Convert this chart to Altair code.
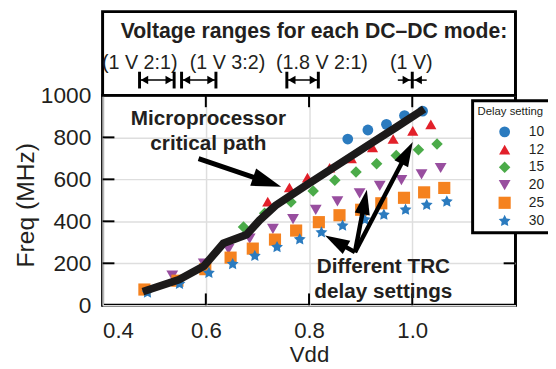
import math
import altair as alt
import pandas as pd

# ---------------- data ----------------
series_names = ["10", "12", "15", "20", "25", "30"]
v10 = [0.875, 0.914, 0.950, 0.985, 1.020]
f10 = [792, 835, 862, 904, 925]
v12 = [0.720, 0.762, 0.797, 0.840, 0.882, 0.923, 0.963, 1.001, 1.036]
f12 = [494, 561, 608, 655, 700, 752, 792, 831, 862]
v15 = [0.673, 0.714, 0.765, 0.808, 0.850, 0.891, 0.931, 0.969, 1.012, 1.048]
f15 = [373, 439, 492, 544, 596, 635, 674, 713, 741, 768]
v20 = [0.535, 0.596, 0.644, 0.685, 0.730, 0.769, 0.813, 0.855, 0.898, 0.937, 0.979, 1.018, 1.055]
f20 = [141, 198, 267, 318, 364, 411, 455, 495, 533, 569, 596, 624, 654]
v25 = [0.481, 0.545, 0.599, 0.648, 0.691, 0.734, 0.775, 0.819, 0.859, 0.901, 0.940, 0.984, 1.023, 1.062]
f25 = [75, 117, 172, 227, 270, 313, 356, 396, 429, 455, 486, 512, 538, 559]
v30 = [0.487, 0.549, 0.606, 0.652, 0.695, 0.738, 0.782, 0.824, 0.865, 0.908, 0.945, 0.987, 1.028, 1.067]
f30 = [60, 102, 154, 196, 235, 277, 314, 347, 379, 408, 431, 455, 478, 494]

line_v = [0.478, 0.548, 0.596, 0.634, 0.679, 0.704, 0.735, 0.79, 0.85, 0.91, 0.97, 1.023]
line_f = [65, 122, 186, 295, 336, 405, 475, 565, 660, 755, 850, 935]

micro_text = ["Microprocessor", "critical path"]
micro_text_v = [0.605, 0.605]
micro_text_f = [886, 768]
trc_text = ["Different TRC", "delay settings"]
trc_text_v = [0.944, 0.944]
trc_text_f = [182, 64]

arrow_tail_v = [0.586, 0.889, 0.889, 0.889]
arrow_tail_f = [699, 253, 253, 253]
arrow_tip_v = [0.746, 0.831, 0.912, 1.001]
arrow_tip_f = [565, 333, 550, 778]

box_title = "Voltage ranges for each DC\u2013DC mode:"
mode_labels = ["(1 V 2:1)", "(1 V 3:2)", "(1.8 V 2:1)", "(1 V)"]
mode_label_v = [0.472, 0.642, 0.825, 0.998]
range_lo = [0.4716, 0.553, 0.757]
range_hi = [0.5386, 0.6196, 0.818]
single_v = [1.0]

x_ticks = [0.4, 0.6, 0.8, 1.0]
y_ticks = [0, 200, 400, 600, 800, 1000]
inner_x_ticks = [0.6, 0.8, 1.0]
inner_y_ticks = [200, 400, 600, 800]

# ---------------- layout / style ----------------
W, H = 419, 213
PXV = W / 0.8
PXF = H / 1000.0
FONT = "Liberation Sans"
INK = "#231f20"
colors = ["#2b7bbf", "#e2202a", "#4bab49", "#984e9f", "#f5821f", "#2b7bbf"]
STAR = ("M0,-1L0.294,-0.405L0.951,-0.309L0.476,0.155L0.588,0.809L0,0.5"
        "L-0.588,0.809L-0.476,0.155L-0.951,-0.309L-0.294,-0.405Z")
shapes = ["circle", "triangle-up", "diamond", "triangle-down", "square", STAR]
sizes = [120, 160, 190, 160, 110, 150]
HEAD = "M0,-1L0.62,1L-0.62,1Z"

xs = alt.Scale(domain=[0.4, 1.2], nice=False, zero=False)
ys = alt.Scale(domain=[0, 1000], nice=False)
x_axis = alt.Axis(values=x_ticks, format=".1f", grid=True, ticks=False, domain=False,
                  labelFontSize=22.5, labelPadding=15, title="Vdd", titleFontSize=22.5,
                  titleFontWeight="normal", titleBaseline="alphabetic", titleY=57.5)
y_axis = alt.Axis(values=y_ticks, format="d", grid=True, ticks=False, domain=False,
                  labelFontSize=23, labelPadding=12, title="Freq (MHz)", titleFontSize=25,
                  titleFontWeight="normal", titleAngle=270, titleAlign="center",
                  titleBaseline="middle", titleX=-78, titleY=111)


def X(field="v"):
    return alt.X(f"{field}:Q", scale=xs, axis=x_axis, title="Vdd")


def Y(field="f"):
    return alt.Y(f"{field}:Q", scale=ys, axis=y_axis, title="Freq (MHz)")


# points
rows = []
for name, vv, ff in zip(series_names, [v10, v12, v15, v20, v25, v30], [f10, f12, f15, f20, f25, f30]):
    for a, b in zip(vv, ff):
        rows.append({"series": name, "v": a, "f": b})
pts = pd.DataFrame(rows)

leg = alt.Legend(title="Delay setting", orient="none", legendX=375.5, legendY=5.5,
                 fillColor="white", strokeColor="black", padding=5,
                 titleFontSize=11.5, titleFontWeight="normal", titleColor=INK, titlePadding=8,
                 labelFontSize=14, labelColor=INK, symbolSize=150, rowPadding=4,
                 symbolOffset=20, labelOffset=17)

points = alt.Chart(pts).mark_point(filled=True, opacity=1).encode(
    x=X(), y=Y(),
    color=alt.Color("series:N", scale=alt.Scale(domain=series_names, range=colors), legend=leg),
    shape=alt.Shape("series:N", scale=alt.Scale(domain=series_names, range=shapes), legend=leg),
    size=alt.Size("series:N", scale=alt.Scale(domain=series_names, range=sizes), legend=None),
)

line = alt.Chart(pd.DataFrame({"v": line_v, "f": line_f})).mark_line(
    color="#1c1a1a", strokeWidth=8).encode(x=X(), y=Y())

# inward ticks
xt = pd.DataFrame({"v": inner_x_ticks})
yt = pd.DataFrame({"f": inner_y_ticks})
tick_style = dict(color="black", strokeWidth=2)
ticks = [
    alt.Chart(xt).mark_rule(**tick_style).encode(x=X(), y=alt.value(H), y2=alt.value(H - 12)),
    alt.Chart(xt).mark_rule(**tick_style).encode(x=X(), y=alt.value(0), y2=alt.value(12)),
    alt.Chart(yt).mark_rule(**tick_style).encode(y=Y(), x=alt.value(0), x2=alt.value(12)),
    alt.Chart(yt).mark_rule(**tick_style).encode(y=Y(), x=alt.value(W - 12), x2=alt.value(W)),
]

# arrows
arows = []
for tv, tf, pv, pf, i in zip(arrow_tail_v, arrow_tail_f, arrow_tip_v, arrow_tip_f, range(4)):
    hl = 30 if i == 0 else 25
    dx = (pv - tv) * PXV
    dy = -(pf - tf) * PXF
    L = math.hypot(dx, dy)
    ux, uy = dx / L, dy / L
    arows.append({
        "v": tv, "f": tf,
        "v2": pv - ux * hl * 0.6 / PXV, "f2": pf + uy * hl * 0.6 / PXF,
        "hv": pv - ux * hl / 2 / PXV, "hf": pf + uy * hl / 2 / PXF,
        "ang": math.degrees(math.atan2(ux, -uy)) % 360,
        "s": hl * hl, "w": 5 if i == 0 else 4.5,
    })
adf = pd.DataFrame(arows)
arrow_lines = alt.Chart(adf).mark_rule(color="black").encode(
    x=X(), y=Y(), x2="v2:Q", y2="f2:Q", strokeWidth=alt.StrokeWidth("w:Q", scale=None))
arrow_heads = alt.Chart(adf).mark_point(filled=True, opacity=1, color="black", shape=HEAD).encode(
    x=X("hv"), y=Y("hf"), angle=alt.Angle("ang:Q", scale=None), size=alt.Size("s:Q", scale=None))

# annotation text
ann = pd.DataFrame({"t": micro_text + trc_text, "v": micro_text_v + trc_text_v,
                    "f": micro_text_f + trc_text_f})
ann_text = alt.Chart(ann).mark_text(font=FONT, fontSize=21, fontWeight="bold", color=INK,
                                    baseline="middle").encode(x=X(), y=Y(), text="t:N")

# top box
one = pd.DataFrame({"k": [0]})
box = alt.Chart(one).mark_rect(fill="white", stroke="black", strokeWidth=3).encode(
    x=alt.value(0), x2=alt.value(W), y=alt.value(-85), y2=alt.value(0))
box_t = alt.Chart(pd.DataFrame({"t": [box_title]})).mark_text(
    font=FONT, fontSize=21.5, fontWeight="bold", color=INK, baseline="middle").encode(
    x=alt.value(W / 2 + 5), y=alt.value(-64), text="t:N")
mode_t = alt.Chart(pd.DataFrame({"t": mode_labels, "v": mode_label_v})).mark_text(
    font=FONT, fontSize=20, color=INK, baseline="middle").encode(
    x=X(), y=alt.value(-33), text="t:N")

bars = pd.DataFrame({"v": range_lo + range_hi + single_v})
range_bars = alt.Chart(bars).mark_rule(color="black", strokeWidth=3).encode(
    x=X(), y=alt.value(-24), y2=alt.value(-7))
rng = pd.DataFrame({"v": range_lo + [single_v[0] - 0.028], "v2": range_hi + [single_v[0] + 0.028]})
range_lines = alt.Chart(rng).mark_rule(color="black", strokeWidth=1.5).encode(
    x=X(), x2="v2:Q", y=alt.value(-15.5))
lo_df = pd.DataFrame({"v": range_lo})
hi_df = pd.DataFrame({"v": range_hi})
sv_df = pd.DataFrame({"v": single_v})
head_style = dict(filled=True, opacity=1, color="black", size=75)
range_heads = [
    alt.Chart(lo_df).mark_point(shape="triangle-left", xOffset=5, **head_style).encode(x=X(), y=alt.value(-15.5)),
    alt.Chart(hi_df).mark_point(shape="triangle-right", xOffset=-5, **head_style).encode(x=X(), y=alt.value(-15.5)),
    alt.Chart(sv_df).mark_point(shape="triangle-right", xOffset=-6, **head_style).encode(x=X(), y=alt.value(-15.5)),
    alt.Chart(sv_df).mark_point(shape="triangle-left", xOffset=6, **head_style).encode(x=X(), y=alt.value(-15.5)),
]

chart = alt.layer(
    *ticks, points, line, arrow_lines, arrow_heads, ann_text,
    box, box_t, mode_t, range_lines, range_bars, *range_heads,
).properties(
    width=W, height=H,
    autosize=alt.AutoSizeParams(type="none"),
    padding={"left": 96, "top": 86, "right": 33, "bottom": 62},
).configure_view(stroke="black", strokeWidth=3).configure_axis(
    gridColor="#dedede", gridWidth=1.5, labelColor=INK, titleColor=INK,
    labelFont=FONT, titleFont=FONT,
).configure_legend(strokeWidth=3, labelFont=FONT, titleFont=FONT)

chart.save("out.html", embed_options={"renderer": "svg", "actions": False})
